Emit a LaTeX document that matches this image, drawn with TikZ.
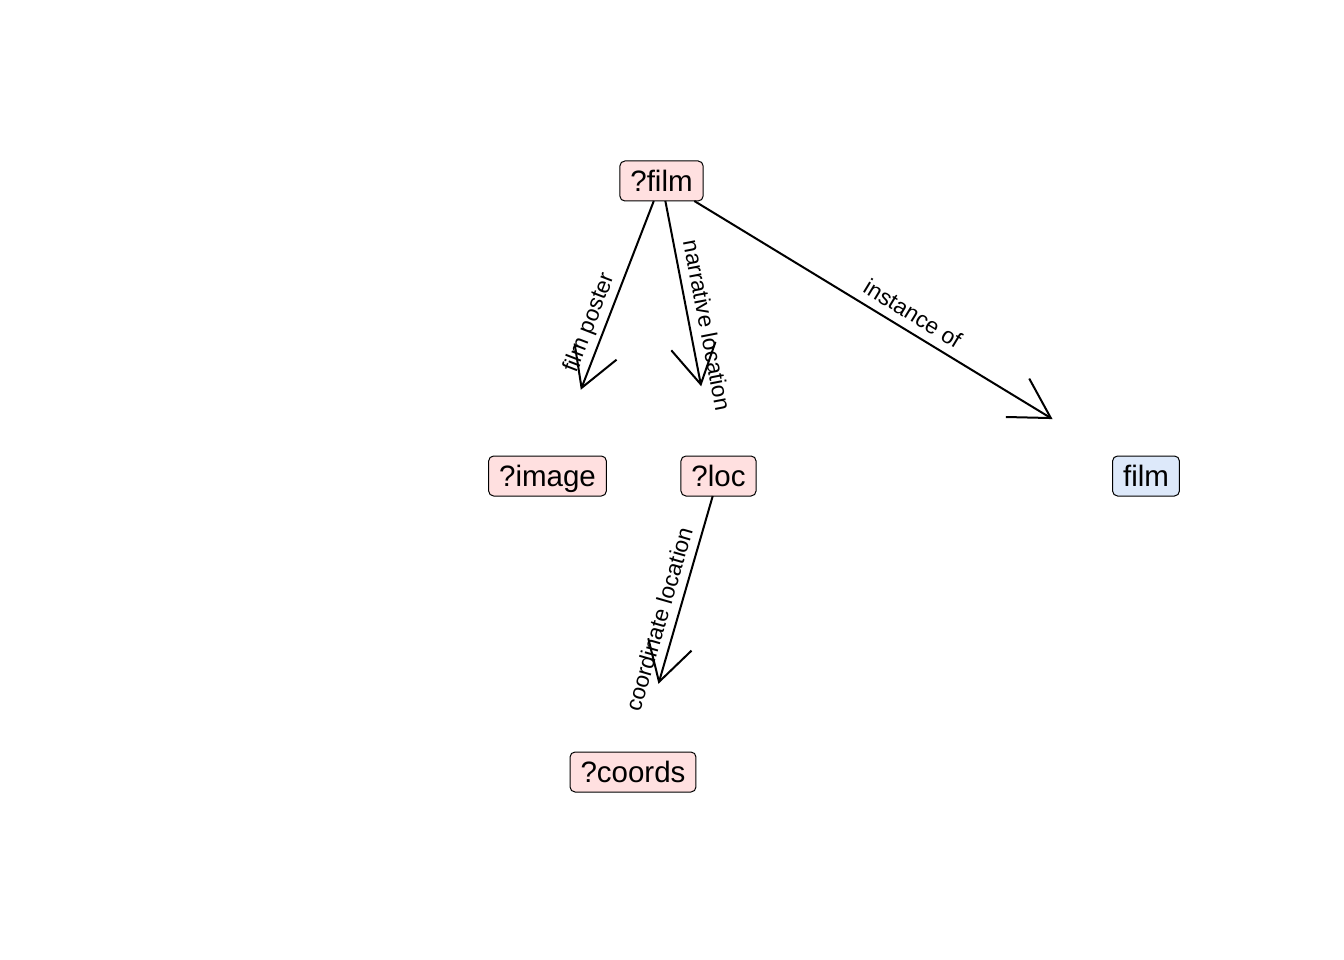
\documentclass[tikz,border=0pt]{standalone}
\usepackage{fontspec}
\setmainfont{Liberation Sans}
\usetikzlibrary{arrows.meta}
\definecolor{varfill}{HTML}{FFE0E0}
\definecolor{itemfill}{HTML}{DDE9FA}
\begin{document}
\begin{tikzpicture}[x=1pt, y=-1pt,
  term/.style={draw=black, line width=1pt, rounded corners=5pt,
    inner xsep=10.5pt, inner ysep=6pt, text height=24.5pt, text depth=3.5pt,
    outer sep=0pt, font=\fontsize{29.5}{34}\selectfont},
  var/.style={term, fill=varfill},
  item/.style={term, fill=itemfill},
  rel/.style={line width=2pt, shorten >=71pt,
    -{Straight Barb[angle=60:45pt]}},
  edgelbl/.style={sloped, anchor=south, inner sep=8.5pt, text depth=0pt,
    font=\fontsize{22.7}{26}\selectfont}]
  \useasboundingbox (0,0) rectangle (1344,960);

  % query variables and the fixed item
  \node[var]  (film)   at (661.5,181) {?film};
  \node[var]  (image)  at (547.5,476) {?image};
  \node[var]  (loc)    at (718.5,476) {?loc};
  \node[item] (filmQ)  at (1146,476)  {film};
  \node[var]  (coords) at (633,772) {?coords};

  % properties linking them
  \draw[rel] (film) -- node[edgelbl] {film poster} (image);
  \draw[rel] (film) -- node[edgelbl] {narrative location} (loc);
  \draw[rel] (film) -- node[edgelbl] {instance of} (filmQ);
  \draw[rel] (loc) -- node[edgelbl] {coordinate location} (coords);
\end{tikzpicture}
\end{document}
